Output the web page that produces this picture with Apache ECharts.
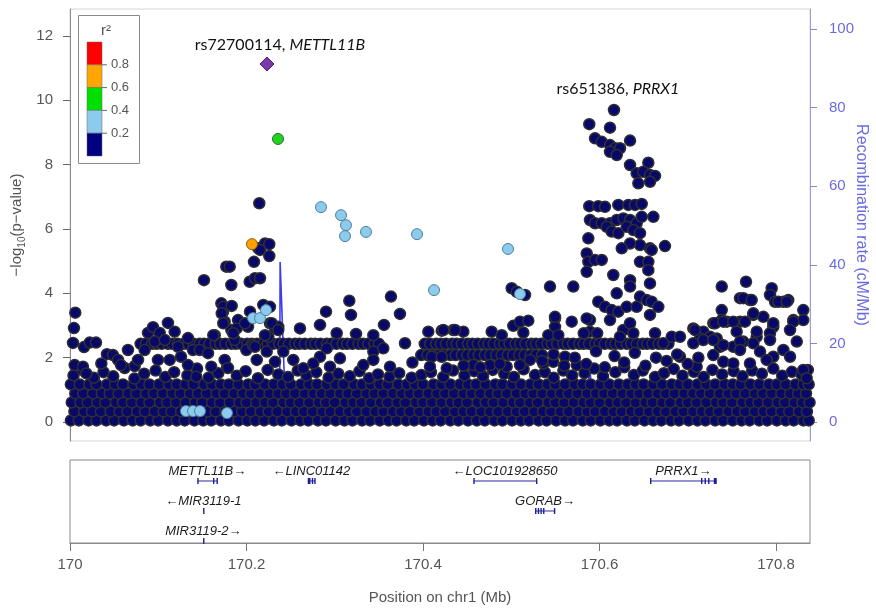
<!DOCTYPE html>
<html>
<head>
<meta charset="utf-8">
<script src="https://cdn.jsdelivr.net/npm/echarts@6/dist/echarts.min.js"></script>
<style>
  html, body { margin: 0; padding: 0; background: #fff; }
  #chart { width: 876px; height: 609px; }
</style>
</head>
<body>
<div id="chart"></div>
<script>
// Regional association plot, chr1:170.00-170.84 Mb.
// SNP positions are stored as kb offsets from 170 Mb.
const REGION_START_MB = 170.0;
const REGION_END_MB = 170.8385;

// Tick labels
const pValueTicks = [0, 2, 4, 6, 8, 10, 12];
const recombTicks = [0, 20, 40, 60, 80, 100];
const positionTicks = [170, 170.2, 170.4, 170.6, 170.8];

// r^2 legend
const ldBreaks = [0.2, 0.4, 0.6, 0.8];
const ldColors = ['#ff0000', '#ffa500', '#00e000', '#8ccbec', '#000080']; // high -> low

// Index SNP and second signal
const leadSnp = [223.2, 11.13];
const leadSnpName = 'rs72700114';
const leadSnpGene = 'METTL11B';
const secondSnp = [616.4, 9.70];
const secondSnpName = 'rs651386';
const secondSnpGene = 'PRRX1';

// SNPs by LD class [kb, -log10 p]
const ldOrange = [[206.2, 5.53]];
const ldGreen = [[235.7, 8.80]];
const ldLightBlue = [
  [284.4, 6.68], [307.1, 6.43], [312.7, 6.12], [311.6, 5.78], [335.4, 5.91],
  [393.2, 5.84], [412.5, 4.10], [496.3, 5.38], [509.9, 3.98], [207.4, 3.23],
  [215.3, 3.23], [222.1, 3.48], [131.4, 0.34], [139.4, 0.34], [147.3, 0.34],
  [177.9, 0.28]
];

// Low-LD SNPs (r^2 < 0.2): dense floor, one row per level
const floorLevels = [0.05, 0.33, 0.61, 0.89, 1.17];
const floorRow0 = [1, 10, 21, 30, 41, 50, 61, 71, 80, 91, 100, 111, 121, 130, 141, 151, 160, 171, 180, 191, 201, 210, 220, 231, 240, 251, 261, 270, 281, 290, 301, 311, 320, 331, 340, 351, 361, 370, 381, 390, 401, 411, 420, 431, 440, 451, 461, 470, 481, 490, 501, 511, 520, 531, 540, 551, 561, 570, 581, 590, 601, 611, 620, 631, 640, 651, 661, 670, 681, 690, 701, 711, 720, 731, 740, 751, 761, 770, 781, 790, 801, 811, 820, 831, 837];
const floorRow1 = [5, 16, 25, 35, 46, 56, 65, 76, 85, 96, 106, 115, 126, 135, 146, 156, 165, 176, 186, 195, 205, 216, 225, 235, 246, 256, 265, 275, 286, 295, 306, 316, 325, 336, 346, 355, 366, 375, 385, 396, 406, 415, 425, 436, 446, 455, 466, 476, 485, 496, 506, 515, 526, 536, 545, 556, 565, 576, 586, 595, 606, 616, 625, 636, 645, 656, 666, 675, 686, 695, 706, 716, 725, 735, 746, 756, 765, 776, 786, 795, 806, 815, 826, 835];
const floorRow2 = [2, 12, 20, 31, 40, 52, 60, 70, 81, 90, 102, 110, 120, 131, 142, 150, 161, 170, 181, 192, 200, 211, 221, 230, 242, 250, 260, 271, 282, 290, 300, 312, 321, 330, 341, 352, 360, 371, 380, 392, 400, 410, 421, 432, 440, 450, 462, 471, 480, 491, 502, 510, 521, 530, 542, 550, 560, 571, 582, 590, 600, 612, 621, 630, 641, 652, 660, 671, 680, 692, 700, 710, 721, 732, 740, 750, 762, 771, 780, 791, 802, 810, 821, 830, 838];
const floorRow3 = [6, 15, 26, 36, 45, 55, 66, 75, 86, 95, 105, 116, 125, 136, 145, 155, 166, 175, 186, 196, 205, 215, 226, 236, 245, 255, 266, 276, 285, 295, 306, 315, 325, 336, 345, 355, 366, 376, 385, 395, 406, 416, 425, 435, 446, 455, 465, 476, 485, 495, 506, 516, 525, 535, 546, 556, 565, 575, 586, 596, 605, 615, 626, 636, 645, 655, 666, 675, 685, 696, 706, 715, 725, 736, 746, 755, 765, 776, 785, 795, 806, 816, 825, 834];
const floorRow4 = [1, 11, 22, 30, 42, 51, 60, 72, 81, 90, 101, 112, 121, 131, 140, 152, 161, 171, 180, 191, 202, 210, 221, 231, 241, 250, 262, 271, 280, 291, 301, 310, 322, 331, 341, 351, 360, 372, 382, 391, 400, 412, 421, 431, 442, 451, 460, 471, 482, 490, 501, 511, 522, 531, 541, 550, 561, 572, 581, 590, 601, 611, 622, 632, 641, 650, 661, 671, 682, 691, 700, 711, 721, 731, 742, 751, 760, 771, 781, 792, 801, 811, 822, 831, 837];

// Low-LD SNPs along the upper edge of the floor
const floorEdge = [
  [4, 1.45], [14, 1.62], [27, 1.38], [38, 1.55], [49, 1.42], [62, 1.68], [73, 1.35], [84, 1.5], [97, 1.6], [108, 1.4],
  [118, 1.55], [133, 1.45], [144, 1.66], [157, 1.38], [168, 1.52], [178, 1.7], [189, 1.44], [199, 1.58], [213, 1.36], [224, 1.62],
  [236, 1.48], [247, 1.4], [258, 1.6], [268, 1.45], [279, 1.55], [293, 1.38], [304, 1.5], [317, 1.42], [328, 1.58], [339, 1.36],
  [349, 1.48], [362, 1.4], [373, 1.52], [387, 1.38], [398, 1.46], [409, 1.55], [423, 1.4], [434, 1.6], [447, 1.45], [458, 1.58],
  [468, 1.42], [479, 1.62], [492, 1.5], [503, 1.4], [514, 1.64], [527, 1.46], [538, 1.55], [548, 1.38], [559, 1.6], [569, 1.45],
  [583, 1.52], [594, 1.66], [604, 1.42], [618, 1.55], [628, 1.7], [639, 1.46], [649, 1.6], [663, 1.4], [673, 1.52], [684, 1.65],
  [694, 1.44], [707, 1.56], [718, 1.4], [728, 1.62], [739, 1.48], [752, 1.58], [762, 1.42], [773, 1.6], [784, 1.5], [797, 1.66],
  [807, 1.44], [818, 1.56], [829, 1.48], [836, 1.62]
];

// Low-LD SNPs forming the two horizontal bands
const bandUpperLevel = 2.43;
const bandUpper = [80, 86, 93, 98, 104, 111, 116, 122, 129, 134, 140, 147, 152, 158, 165, 170, 176, 183, 188, 194, 201, 206, 212, 219, 224, 230, 237, 242, 248, 255, 260, 266, 273, 278, 284, 291, 296, 302, 309, 314, 320, 327, 332, 338, 345, 350, 402, 408, 415, 420, 426, 433, 438, 444, 451, 456, 462, 469, 474, 480, 487, 492, 498, 505, 510, 516, 523, 528, 534, 541, 546, 552, 559, 564, 570, 577, 582, 588, 595, 600, 606, 613, 618, 624, 631, 636, 642, 649, 654, 660, 667, 672, 678];
const bandLowerLevel = 2.08;
const bandLower = [398, 405, 411, 418, 424, 431, 437, 444, 450, 457, 463, 470, 476, 483, 489, 496, 502, 509, 515, 522, 528, 535];

// Remaining low-LD SNPs
const ldNavy = [
  [6.0, 3.40], [4.5, 2.92], [3.4, 2.46], [15.9, 2.33], [22.3, 2.47], [29.5, 2.47], [41.9, 2.11], [48.7, 2.08], [54.4, 1.93], [57.8, 1.77],
  [65.7, 2.24], [5.3, 1.77], [14.7, 1.72], [73.3, 1.74], [88.4, 2.77], [94.1, 2.95], [101.6, 2.77], [111.0, 3.08], [118.6, 2.81], [96.0, 2.50],
  [107.3, 2.55], [122.4, 2.34], [133.7, 2.61], [125.8, 2.03], [139.4, 2.24], [147.0, 2.24], [151.8, 4.41], [164.0, 2.70], [171.5, 3.69], [177.1, 4.83],
  [181.0, 4.83], [182.8, 4.26], [173.4, 3.43], [175.3, 3.12], [182.8, 2.86], [190.4, 3.17], [201.7, 2.96], [203.6, 4.36], [186.6, 2.55], [156.4, 2.14],
  [175.3, 1.93], [199.8, 2.24], [207.4, 2.39], [160.1, 1.72], [179.0, 1.68], [133.7, 1.77], [143.1, 1.41], [99.7, 1.93], [113.0, 1.93], [84.6, 2.24],
  [77.1, 1.93], [35.5, 1.82], [18.5, 1.51],
  [214.5, 6.80], [213.4, 5.40], [221.0, 5.55], [225.8, 5.53], [215.3, 5.35], [225.8, 5.16], [208.5, 4.98], [209.6, 4.47], [215.3, 4.47], [173.7, 3.58],
  [183.2, 3.61], [171.9, 3.38], [173.7, 3.07], [204.0, 3.43], [219.0, 3.64], [226.6, 3.58], [188.9, 2.91], [198.3, 3.07], [226.6, 3.07], [232.3, 2.91],
  [236.0, 2.96], [224.7, 2.65], [185.0, 2.76], [162.4, 2.70], [260.6, 2.91], [283.3, 3.02], [290.1, 3.43], [316.5, 3.77], [318.4, 3.33], [302.2, 2.76],
  [324.1, 2.74], [343.7, 2.70], [355.8, 3.02], [363.7, 3.90], [373.9, 3.36], [379.6, 2.45], [406.0, 2.81], [421.2, 2.84], [434.3, 2.86], [445.7, 2.81],
  [477.8, 2.81], [489.2, 2.70], [500.5, 4.16], [506.2, 4.05], [515.6, 3.95], [502.3, 2.99], [509.9, 3.12], [519.3, 3.15], [513.7, 2.78],
  [588.4, 9.26], [611.9, 9.15], [594.9, 8.82], [602.5, 8.71], [611.9, 8.61], [617.6, 8.51], [623.2, 8.51], [634.6, 8.75], [611.9, 8.40], [619.5, 8.30],
  [634.6, 7.99], [655.3, 8.06], [642.1, 7.73], [649.6, 7.78], [657.2, 7.68], [662.9, 7.65], [644.0, 7.42], [657.2, 7.47], [588.4, 6.71], [598.6, 6.71],
  [606.2, 6.69], [621.3, 6.75], [632.6, 6.75], [640.2, 6.75], [647.8, 6.78], [589.2, 6.28], [594.9, 6.18], [602.5, 6.18], [611.9, 6.18], [619.5, 6.28],
  [627.0, 6.33], [634.6, 6.28], [642.1, 6.18], [647.8, 6.38], [661.0, 6.38], [608.2, 6.07], [613.8, 5.92], [621.3, 5.87], [630.8, 6.07], [638.3, 5.97],
  [645.9, 5.87], [645.9, 5.50], [634.6, 5.55], [625.2, 5.40], [674.2, 5.47], [587.3, 5.71], [585.5, 5.24], [587.3, 4.98], [585.5, 4.67], [594.9, 5.04],
  [602.5, 5.04], [615.6, 4.57], [619.5, 4.00], [634.6, 4.41], [634.6, 4.21], [645.9, 4.98], [657.2, 5.40], [659.1, 5.35], [655.3, 4.98], [655.3, 4.72],
  [657.2, 4.31], [645.9, 3.90], [653.5, 3.79], [659.1, 3.74], [666.6, 3.58], [657.2, 3.33], [598.6, 3.74], [606.2, 3.58], [613.8, 3.48], [621.3, 3.43],
  [630.8, 3.58], [642.1, 3.58], [589.2, 3.17], [611.9, 3.17], [627.0, 2.86], [634.6, 3.07], [543.9, 4.21], [570.3, 4.21], [549.6, 3.22], [549.6, 2.96],
  [568.5, 3.12], [589.2, 2.81],
  [738.5, 4.21], [766.0, 4.36], [759.2, 3.85], [770.5, 3.79], [795.1, 4.16], [793.2, 3.95], [798.9, 3.74], [808.3, 3.74], [813.9, 3.79], [830.9, 3.48],
  [738.5, 3.48], [729.0, 3.07], [738.5, 3.17], [744.1, 3.12], [759.2, 3.12], [774.3, 3.33], [785.6, 3.27], [796.9, 2.96], [819.6, 3.17], [830.9, 3.17],
  [706.3, 2.91], [717.6, 2.81], [713.9, 2.60], [725.2, 2.65], [732.8, 2.60], [762.9, 2.50], [778.1, 2.65], [793.2, 2.76],
  [582.2, 2.76], [597.3, 2.76], [623.2, 2.65], [638.3, 2.76], [662.9, 2.76], [672.3, 2.45], [681.8, 2.65], [691.2, 2.65], [706.3, 2.45], [736.5, 2.34],
  [751.6, 2.34], [691.2, 2.03],
  [774.3, 3.38], [802.6, 3.74], [812.1, 3.74], [763.0, 3.85], [772.4, 3.79], [730.9, 3.07], [740.3, 3.12], [751.6, 3.12], [764.9, 3.12], [796.9, 3.07],
  [819.6, 3.12], [755.4, 2.81], [778.1, 2.81], [815.9, 2.86], [708.2, 2.86], [717.6, 2.55], [728.9, 2.55], [740.3, 2.39], [759.2, 2.50], [774.3, 2.45],
  [793.2, 2.55], [808.3, 2.24], [823.5, 2.50], [728.9, 2.08], [759.2, 2.24], [781.9, 2.19], [796.9, 2.03], [815.9, 2.03], [710.1, 1.72], [740.3, 1.87],
  [751.6, 1.82], [770.5, 1.82], [789.4, 1.93], [830.9, 1.62], [834.7, 1.36],
  [549.6, 3.27], [585.5, 3.22], [423.0, 2.86], [436.3, 2.86], [542.0, 2.70], [553.3, 2.70], [457.0, 1.77], [475.9, 1.77], [494.8, 1.72], [509.9, 1.77],
  [521.2, 1.93], [536.3, 1.82], [547.6, 1.87], [560.9, 2.03], [574.2, 1.77], [426.9, 1.67],
  [343.7, 2.19], [355.0, 2.29], [343.7, 1.93], [290.9, 2.29], [283.3, 2.03], [305.9, 1.98], [275.7, 1.82], [294.6, 1.72], [253.0, 1.93], [241.7, 2.19],
  [232.3, 1.87], [211.6, 1.93], [264.4, 1.67], [332.4, 1.77], [362.6, 1.72], [409.9, 2.03], [421.2, 2.03], [407.9, 1.72], [209.6, 2.34], [222.9, 2.19],
  [228.6, 3.07], [236.0, 2.86], [221.0, 2.70],
  [535, 1.9], [548, 2.1], [560, 1.75], [572, 2.0], [585, 1.8], [596, 2.2], [606, 1.7], [617, 2.05], [628, 1.85], [640, 2.15],
  [652, 1.75], [664, 2.0], [676, 1.9], [688, 2.1], [700, 1.8], [712, 2.0], [388, 1.85], [446, 1.75], [465, 1.7], [487, 1.8]
];

// Recombination rate (cM/Mb) [kb, rate]
const recombRate = [
  [0, 1.2], [40, 2.5], [90, 0.8], [130, 3.2], [170, 1.5], [210, 4.0], [232, 3.5], [237.6, 4], [238.1, 40.7], [242.6, 13],
  [244, 3], [280, 1.5], [330, 2.2], [380, 0.9], [430, 1.8], [480, 2.6], [530, 1.1], [570, 3.5], [586, 4], [589, 14.5],
  [592, 4], [620, 2], [660, 1.2], [700, 3], [750, 1.5], [800, 2.4], [838, 1]
];

// Genes [kb]
const geneNames = ['METTL11B', 'LINC01142', 'LOC101928650', 'PRRX1', 'MIR3119-1', 'GORAB', 'MIR3119-2'];
const geneStrand = ['+', '-', '-', '+', '-', '+', '+'];
const geneRow = [1, 1, 1, 1, 2, 2, 3];
const geneStart = [144.2, 269.4, 457.0, 657.2, 150.8, 526.9, 150.8];
const geneEnd = [166.9, 277.6, 528.8, 732.8, 151.3, 549.6, 151.3];
const geneExons = [
  [[144.2, 145.0], [162.0, 163.0], [166.0, 166.9]],
  [[269.4, 272.5], [274.0, 274.8], [276.8, 277.6]],
  [[457.0, 457.9], [528.0, 528.8]],
  [[657.2, 658.0], [715.0, 716.0], [719.0, 720.0], [723.0, 724.0], [729.5, 732.8]],
  [[150.8, 151.3]],
  [[526.9, 528.5], [530.0, 531.5], [533.0, 534.5], [536.0, 537.0], [548.3, 549.6]],
  [[150.8, 151.3]]
];

const toMb = kb => REGION_START_MB + kb / 1000;
const toPoint = p => [toMb(p[0]), p[1]];

const SANS = '"Liberation Sans", Arial, sans-serif';
const NOTE_FONT = 'Lato, "Open Sans", sans-serif';
const noteRich = {
  a: { fontFamily: NOTE_FONT, fontSize: 16, color: '#111' },
  b: { fontFamily: NOTE_FONT, fontSize: 16, fontStyle: 'italic', color: '#111' }
};

// Build the low-LD series data: floor first, then everything above it
const floorRows = [floorRow0, floorRow1, floorRow2, floorRow3, floorRow4];
const navyData = [];
floorRows.forEach((row, i) => row.forEach(kb => navyData.push([toMb(kb), floorLevels[i]])));
floorEdge.forEach(p => navyData.push(toPoint(p)));
bandUpper.forEach(kb => navyData.push([toMb(kb), bandUpperLevel]));
bandLower.forEach(kb => navyData.push([toMb(kb), bandLowerLevel]));
ldNavy.forEach(p => navyData.push(toPoint(p)));
navyData.push({
  value: toPoint(secondSnp),
  label: {
    show: true, position: 'top', distance: 7, offset: [4, 0],
    formatter: '{a|' + secondSnpName + ', }{b|' + secondSnpGene + '}',
    rich: noteRich
  }
});

// Legend (r^2 colour bar), laid out from the break list
const legendBox = { x: 78.5, y: 15.5, w: 61, h: 148 };
const barX = 87, barY = 42, barW = 15, blockH = 22.8;
const legendGraphics = [
  { type: 'rect', z: 100, shape: { x: legendBox.x, y: legendBox.y, width: legendBox.w, height: legendBox.h },
    style: { fill: '#fff', stroke: '#8a8a8a', lineWidth: 1 } },
  { type: 'text', z: 101, x: 106, y: 31,
    style: { text: 'r\u00b2', font: '15px ' + SANS, fill: '#555', align: 'center', verticalAlign: 'middle' } }
];
ldColors.forEach((c, i) => {
  legendGraphics.push({ type: 'rect', z: 101,
    shape: { x: barX, y: barY + i * blockH, width: barW, height: blockH },
    style: { fill: c, stroke: '#666', lineWidth: 0.5 } });
});
ldBreaks.slice().reverse().forEach((b, i) => {
  const y = barY + (i + 1) * blockH;
  legendGraphics.push({ type: 'line', z: 101, shape: { x1: barX + barW, y1: y, x2: barX + barW + 5, y2: y },
    style: { stroke: '#666', lineWidth: 1 } });
  legendGraphics.push({ type: 'text', z: 101, x: barX + barW + 9, y: y,
    style: { text: b.toFixed(1), font: '13px ' + SANS, fill: '#555', align: 'left', verticalAlign: 'middle' } });
});

const scatterBase = { type: 'scatter', xAxisIndex: 0, yAxisIndex: 0, symbol: 'circle', symbolSize: 11, silent: true };

const chart = echarts.init(document.getElementById('chart'), null, { renderer: 'canvas' });
chart.setOption({
  animation: false,
  backgroundColor: '#fff',
  graphic: legendGraphics,
  grid: [
    { left: 70, top: 9, width: 740, height: 432, show: true, borderColor: '#d4d4d4', borderWidth: 1, containLabel: false, outerBoundsMode: 'none' },
    { left: 70, top: 460, width: 740, height: 83, show: true, borderColor: '#8a8a8a', borderWidth: 1, containLabel: false, outerBoundsMode: 'none' }
  ],
  xAxis: [
    { gridIndex: 0, type: 'value', min: REGION_START_MB, max: REGION_END_MB,
      axisLine: { show: false }, axisTick: { show: false }, axisLabel: { show: false }, splitLine: { show: false } },
    { gridIndex: 1, type: 'value', min: REGION_START_MB, max: REGION_END_MB,
      name: 'Position on chr1 (Mb)', nameLocation: 'middle', nameGap: 47,
      nameTextStyle: { fontFamily: SANS, fontSize: 15, color: '#555' },
      axisLine: { show: true, lineStyle: { color: '#8a8a8a' } },
      axisTick: { show: true, length: 8, customValues: positionTicks, lineStyle: { color: '#777' } },
      axisLabel: { show: true, customValues: positionTicks, margin: 14, fontFamily: SANS, fontSize: 15, color: '#555',
        formatter: v => (Math.abs(v - 170) < 1e-9 ? '170' : v.toFixed(1)) },
      splitLine: { show: false } }
  ],
  yAxis: [
    { gridIndex: 0, type: 'value', position: 'left', min: -0.59, max: 12.84,
      name: '{a|\u2212log}{s|10}{a|(p\u2212value)}', nameLocation: 'middle', nameGap: 43, nameRotate: 90,
      nameMoveOverlap: false,
      nameTextStyle: { rich: {
        a: { fontFamily: SANS, fontSize: 15, color: '#555', lineHeight: 20 },
        s: { fontFamily: SANS, fontSize: 10, color: '#555', lineHeight: 20, verticalAlign: 'bottom' }
      } },
      axisLine: { show: true, lineStyle: { color: '#8c8c8c' } },
      axisTick: { show: true, length: 7, customValues: pValueTicks, lineStyle: { color: '#666' } },
      axisLabel: { customValues: pValueTicks, margin: 17, fontFamily: SANS, fontSize: 15, color: '#555' },
      splitLine: { show: false } },
    { gridIndex: 0, type: 'value', position: 'right', min: -4.83, max: 105.1,
      name: 'Recombination rate (cM/Mb)', nameLocation: 'middle', nameGap: 43, nameRotate: -90,
      nameMoveOverlap: false,
      nameTextStyle: { fontFamily: SANS, fontSize: 16, color: '#6b6be0' },
      axisLine: { show: true, lineStyle: { color: '#9d9dd4' } },
      axisTick: { show: true, length: 7, customValues: recombTicks, lineStyle: { color: '#8888cc' } },
      axisLabel: { customValues: recombTicks, margin: 19, fontFamily: SANS, fontSize: 15, color: '#6b6be0' },
      splitLine: { show: false } },
    { gridIndex: 1, type: 'value', min: 0.3, max: 3.067, inverse: true, show: false }
  ],
  series: [
    { type: 'line', xAxisIndex: 0, yAxisIndex: 1, z: 1, silent: true, showSymbol: false,
      data: recombRate.map(toPoint), lineStyle: { color: '#3c3cf0', width: 1.6 } },
    Object.assign({}, scatterBase, { z: 2, data: navyData,
      itemStyle: { color: '#08086a', borderColor: '#303030', borderWidth: 1.5, opacity: 1 } }),
    Object.assign({}, scatterBase, { z: 3, data: ldLightBlue.map(toPoint),
      itemStyle: { color: '#8ccbec', borderColor: '#4f7f9e', borderWidth: 1, opacity: 1 } }),
    Object.assign({}, scatterBase, { z: 4, data: ldGreen.map(toPoint),
      itemStyle: { color: '#1fd41f', borderColor: '#2c6b2c', borderWidth: 1, opacity: 1 } }),
    Object.assign({}, scatterBase, { z: 4, data: ldOrange.map(toPoint),
      itemStyle: { color: '#ffa200', borderColor: '#8a5a10', borderWidth: 1, opacity: 1 } }),
    Object.assign({}, scatterBase, { z: 5, symbol: 'diamond', symbolSize: 14, data: [toPoint(leadSnp)],
      itemStyle: { color: '#7a3aa8', borderColor: '#4b2070', borderWidth: 1, opacity: 1 },
      label: { show: true, position: 'top', distance: 4, offset: [13, 0],
        formatter: '{a|' + leadSnpName + ', }{b|' + leadSnpGene + '}',
        rich: noteRich } }),
    { type: 'custom', xAxisIndex: 1, yAxisIndex: 2, silent: true, clip: false,
      data: geneNames.map((n, i) => [toMb(geneStart[i]), toMb(geneEnd[i]), geneRow[i], i]),
      encode: { x: [0, 1], y: 2 },
      renderItem: (params, api) => {
        const i = api.value(3);
        const row = api.value(2);
        const s = api.coord([api.value(0), row]);
        const e = api.coord([api.value(1), row]);
        const children = [{ type: 'line', shape: { x1: s[0], y1: s[1], x2: e[0], y2: e[1] },
          style: { stroke: '#2b2ba6', lineWidth: 1 } }];
        geneExons[i].forEach(ex => {
          const a = api.coord([toMb(ex[0]), row]);
          const b = api.coord([toMb(ex[1]), row]);
          const w = Math.max(1.4, b[0] - a[0]);
          children.push({ type: 'rect', shape: { x: a[0], y: s[1] - 3, width: w, height: 6 },
            style: { fill: '#1f1f9a' } });
        });
        const name = geneNames[i];
        const label = geneStrand[i] === '+' ? name + '\u2192' : '\u2190' + name;
        children.push({ type: 'text', x: (s[0] + e[0]) / 2, y: s[1] - 10,
          style: { text: label, font: 'italic 13px ' + SANS, fill: '#1c1c1c', align: 'center', verticalAlign: 'middle' } });
        return { type: 'group', children };
      } }
  ]
});
</script>
</body>
</html>
